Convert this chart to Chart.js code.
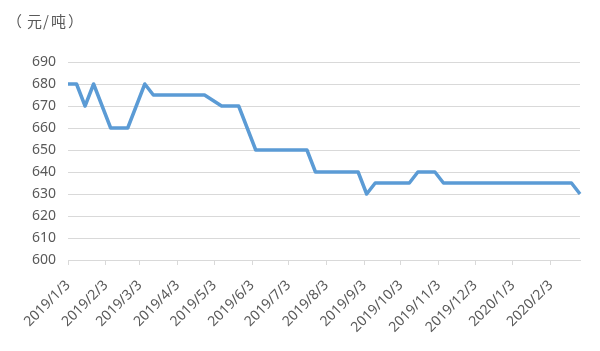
<!DOCTYPE html>
<html>
<head>
<meta charset="utf-8">
<script src="https://cdn.jsdelivr.net/npm/chart.js@4/dist/chart.umd.min.js"></script>
<style>
html,body{margin:0;padding:0;background:#fff;}
#wrap{width:600px;height:351px;position:relative;}
</style>
</head>
<body>
<div id="wrap"><canvas id="c" width="600" height="351"></canvas></div>
<script>
const unitLabel = '（元/吨）';
const dates = ['2019/1/3','2019/1/10','2019/1/17','2019/1/24','2019/2/7','2019/2/21','2019/3/7','2019/3/14',
  '2019/4/25','2019/5/9','2019/5/23','2019/6/6','2019/7/18','2019/7/25','2019/8/29','2019/9/5','2019/9/12',
  '2019/10/10','2019/10/17','2019/10/31','2019/11/7','2020/2/20','2020/2/27'];
const prices = [680,680,670,680,660,660,680,675,675,670,670,650,650,640,640,630,635,635,640,640,635,635,630];
const tickLabels = ['2019/1/3','2019/2/3','2019/3/3','2019/4/3','2019/5/3','2019/6/3','2019/7/3','2019/8/3',
  '2019/9/3','2019/10/3','2019/11/3','2019/12/3','2020/1/3','2020/2/3'];
const yTicks = [600,610,620,630,640,650,660,670,680,690];

function dayNum(s){const p=s.split('/').map(Number);return Math.round((Date.UTC(p[0],p[1]-1,p[2])-Date.UTC(2019,0,3))/86400000);}
const points = dates.map((d,i)=>({x:dayNum(d),y:prices[i]}));
const tickDays = tickLabels.map(dayNum);

const txt = '#595959';
const unitPlugin = {
  id:'unit',
  afterDraw(chart){
    const ctx=chart.ctx;ctx.save();
    ctx.font='15px "Noto Sans CJK SC"';ctx.fillStyle=txt;ctx.textBaseline='middle';ctx.textAlign='left';
    const chars=Array.from(unitLabel);
    const xs=[7,27,43,51,68];
    chars.forEach((ch,i)=>ctx.fillText(ch,xs[i],21));
    ctx.restore();
  }
};

new Chart(document.getElementById('c'),{
  type:'line',
  data:{datasets:[{data:points,borderColor:'#5B9BD5',borderWidth:3.5,pointRadius:0,tension:0,
    borderJoinStyle:'round',borderCapStyle:'butt',clip:false}]},
  options:{
    responsive:false,animation:false,
    layout:{padding:{left:0,right:20,top:62,bottom:0}},
    plugins:{legend:{display:false},tooltip:{enabled:false}},
    scales:{
      x:{type:'linear',min:0,max:dayNum(dates[dates.length-1]),
        afterBuildTicks(scale){scale.ticks=tickDays.map(v=>({value:v}));},
        afterFit(scale){scale.height=91;},
        grid:{drawOnChartArea:false,drawTicks:true,tickLength:5,color:'#d9d9d9'},
        border:{display:true,color:'#d9d9d9',width:1},
        ticks:{autoSkip:false,minRotation:45,maxRotation:45,color:txt,padding:12,
          font:{family:'"Noto Sans"',size:14},
          callback(v,i){return tickLabels[i];}}
      },
      y:{min:600,max:690,
        afterBuildTicks(scale){scale.ticks=yTicks.map(v=>({value:v}));},
        afterFit(scale){scale.width=68;},
        grid:{color:'#d9d9d9',drawTicks:false,lineWidth:1},
        border:{display:false},
        ticks:{color:txt,padding:12,font:{family:'"Noto Sans"',size:14}}
      }
    }
  },
  plugins:[unitPlugin]
});
</script>
</body>
</html>
